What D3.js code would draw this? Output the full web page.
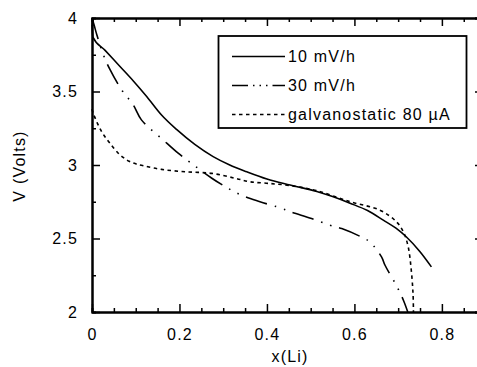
<!DOCTYPE html>
<html><head><meta charset="utf-8">
<script src="https://cdn.jsdelivr.net/npm/d3@7"></script>
<style>
body{margin:0;background:#fff;}
text{font-family:"Liberation Sans",Arial,sans-serif;fill:#000;}
</style></head>
<body><svg id="c" width="477" height="367"></svg>
<script>
// Data
const seriesNames = ["10 mV/h", "30 mV/h", "galvanostatic 80 \u00B5A"];
const s10x = [0, 0.002, 0.03, 0.064, 0.095, 0.125, 0.159, 0.194, 0.235, 0.277, 0.315, 0.354, 0.40, 0.453, 0.514, 0.55, 0.59, 0.63, 0.666, 0.695, 0.719, 0.75, 0.776];
const s10v = [3.95, 3.87, 3.78, 3.67, 3.57, 3.466, 3.34, 3.24, 3.14, 3.057, 3.0, 2.954, 2.905, 2.864, 2.82, 2.785, 2.74, 2.69, 2.625, 2.57, 2.51, 2.41, 2.307];
const s30x = [0, 0.005, 0.011, 0.026, 0.041, 0.068, 0.094, 0.113, 0.163, 0.197, 0.228, 0.274, 0.312, 0.345, 0.384, 0.434, 0.456, 0.502, 0.544, 0.571, 0.616, 0.635, 0.662, 0.67, 0.696, 0.712, 0.722];
const s30v = [4.0, 3.95, 3.886, 3.75, 3.65, 3.51, 3.41, 3.307, 3.17, 3.08, 3.01, 2.91, 2.84, 2.79, 2.75, 2.705, 2.68, 2.636, 2.59, 2.568, 2.51, 2.477, 2.375, 2.318, 2.18, 2.08, 2.0];
const sGx = [0, 0.003, 0.022, 0.041, 0.06, 0.072, 0.085, 0.1, 0.12, 0.159, 0.213, 0.274, 0.327, 0.361, 0.403, 0.453, 0.514, 0.59, 0.658, 0.696, 0.712, 0.723, 0.73, 0.734, 0.735];
const sGv = [3.38, 3.35, 3.227, 3.148, 3.08, 3.05, 3.025, 3.008, 2.993, 2.97, 2.954, 2.943, 2.91, 2.886, 2.875, 2.86, 2.825, 2.75, 2.693, 2.614, 2.545, 2.443, 2.284, 2.125, 2.0];
const xMajorTicks = [0, 0.2, 0.4, 0.6, 0.8];
const yMajorTicks = [2, 2.5, 3, 3.5, 4];
const xMinorTicks = [0.05, 0.1, 0.15, 0.25, 0.3, 0.35, 0.45, 0.5, 0.55, 0.65, 0.7, 0.75, 0.85];
const yMinorTicks = [2.25, 2.75, 3.25, 3.75];

const svg = d3.select("#c");
const L = 92, R = 483, T = 18, B = 312;
const x = d3.scaleLinear().domain([0, 0.894]).range([L, R]);
const y = d3.scaleLinear().domain([2, 4]).range([B, T]);
const fmt = d => d === 0 ? "0" : String(d);

function styleAxis(g){ g.select(".domain").attr("stroke","#000").attr("stroke-width",2);
  g.selectAll(".tick line").attr("stroke","#000").attr("stroke-width",1.5);
  g.selectAll("text").style("font-size","16px").style("letter-spacing","1.2px").attr("fill","#000"); }

// bottom
svg.append("g").attr("transform",`translate(0,${B})`)
  .call(d3.axisBottom(x).tickValues(xMinorTicks).tickSize(-4).tickFormat("")).call(styleAxis);
svg.append("g").attr("transform",`translate(0,${B})`)
  .call(d3.axisBottom(x).tickValues(xMajorTicks).tickSizeInner(-8).tickSizeOuter(0).tickPadding(17).tickFormat(fmt)).call(styleAxis);
// top
svg.append("g").attr("transform",`translate(0,${T})`)
  .call(d3.axisTop(x).tickValues(xMinorTicks).tickSize(-4).tickFormat("")).call(styleAxis);
svg.append("g").attr("transform",`translate(0,${T})`)
  .call(d3.axisTop(x).tickValues(xMajorTicks).tickSize(-8).tickFormat("")).call(styleAxis);
// left
svg.append("g").attr("transform",`translate(${L},0)`)
  .call(d3.axisLeft(y).tickValues(yMinorTicks).tickSize(-4).tickFormat("")).call(styleAxis);
svg.append("g").attr("transform",`translate(${L},0)`)
  .call(d3.axisLeft(y).tickValues(yMajorTicks).tickSizeInner(-8).tickSizeOuter(0).tickPadding(14).tickFormat(fmt)).call(styleAxis);
// right
svg.append("g").attr("transform",`translate(${R},0)`)
  .call(d3.axisRight(y).tickValues(yMajorTicks).tickSize(-8).tickFormat("")).call(styleAxis);

// axis titles
svg.append("text").attr("x", 290).attr("y", 362).attr("text-anchor","middle")
  .style("font-size","16px").style("letter-spacing","1.2px").text("x(Li)");
svg.append("text").attr("transform","translate(25,166) rotate(-90)").attr("text-anchor","middle")
  .style("font-size","16px").style("letter-spacing","1.2px").text("V (Volts)");

const styles = [
  {dash:null},
  {dash:"22,8,1.5,8,1.5,8"},
  {dash:"3.5,3.5"}
];
const data = [
  d3.zip(s10x, s10v),
  d3.zip(s30x, s30v),
  d3.zip(sGx, sGv)
];
data.forEach((d,i) => {
  const line = d3.line().x(p => x(p[0])).y(p => y(p[1]))
    .curve(i === 0 ? d3.curveMonotoneX : d3.curveCatmullRom);
  svg.append("path").datum(d).attr("d", line)
    .attr("fill","none").attr("stroke","#000").attr("stroke-width",1.6)
    .attr("stroke-dasharray", styles[i].dash);
});

// legend
const legendDash = [null, "16,5,1.5,5,1.5,5,1.5,5", "3.5,3.5"];
const lg = svg.append("g");
lg.append("rect").attr("x",218.5).attr("y",36).attr("width",248).attr("height",92)
  .attr("fill","#fff").attr("stroke","#000").attr("stroke-width",1.8);
seriesNames.forEach((n,i) => {
  const yy = 56.5 + i*29;
  lg.append("line").attr("x1",232).attr("x2",285).attr("y1",yy).attr("y2",yy)
    .attr("stroke","#000").attr("stroke-width",1.4).attr("stroke-dasharray", legendDash[i]);
  lg.append("text").attr("x",288).attr("y",yy+5.5).style("font-size","16px").style("letter-spacing","1.2px").text(n);
});
</script></body></html>
